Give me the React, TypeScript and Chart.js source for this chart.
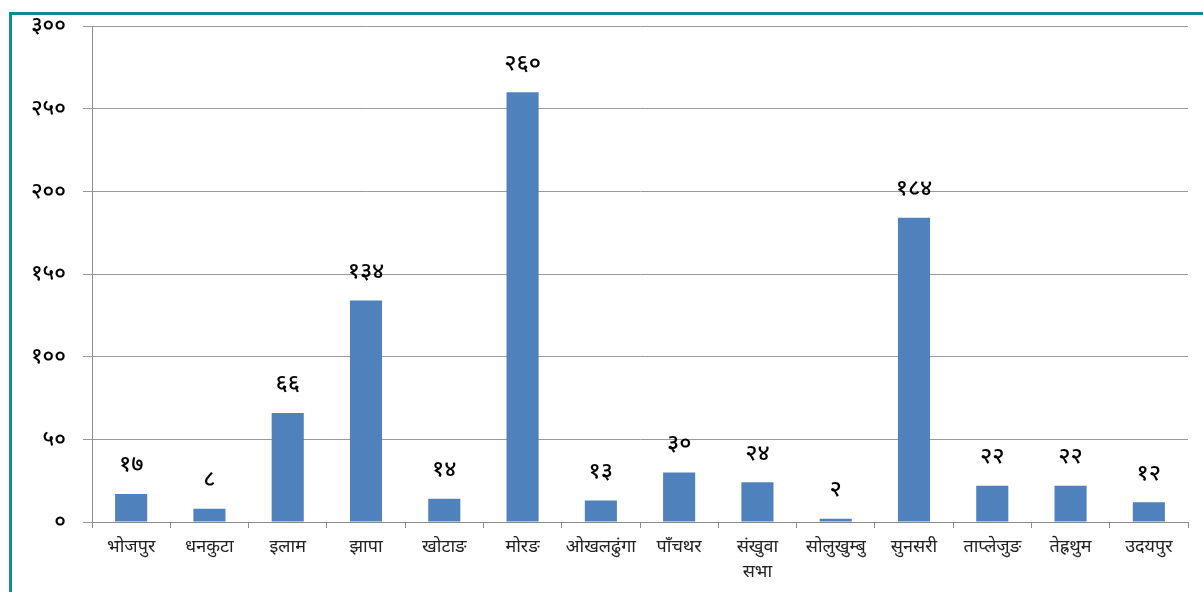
import React, { useEffect, useRef } from "react";
import { Chart, registerables } from "chart.js";

Chart.register(...registerables);

const categories: (string | string[])[] = [
  "भोजपुर",
  "धनकुटा",
  "इलाम",
  "झापा",
  "खोटाङ",
  "मोरङ",
  "ओखलढुंगा",
  "पाँचथर",
  ["संखुवा", "सभा"],
  "सोलुखुम्बु",
  "सुनसरी",
  "ताप्लेजुङ",
  "तेह्रथुम",
  "उदयपुर",
];
const values: number[] = [17, 8, 66, 134, 14, 260, 13, 30, 24, 2, 184, 22, 22, 12];
const yTicks: number[] = [0, 50, 100, 150, 200, 250, 300];

const DIGITS = "०१२३४५६७८९";
const toDev = (n: number) => String(n).replace(/[0-9]/g, (d) => DIGITS[+d]);

const FONT = "'Noto Sans', 'Noto Sans Devanagari', 'Lohit Devanagari', sans-serif";

export default function App() {
  const ref = useRef<HTMLCanvasElement | null>(null);
  useEffect(() => {
    if (!ref.current) return;
    const labelPlugin = {
      id: "barLabels",
      afterDatasetsDraw(chart: any) {
        const ctx = chart.ctx;
        const meta = chart.getDatasetMeta(0);
        ctx.save();
        ctx.fillStyle = "#000";
        ctx.font = `500 23px ${FONT}`;
        ctx.textAlign = "center";
        ctx.textBaseline = "middle";
        meta.data.forEach((bar: any, i: number) => {
          ctx.fillText(toDev(values[i]), bar.x, bar.y - 29);
        });
        ctx.restore();
      },
    };
    const chart = new Chart(ref.current, {
      type: "bar",
      data: {
        labels: categories,
        datasets: [
          {
            data: values,
            backgroundColor: "#4F81BD",
            barPercentage: 0.41,
            categoryPercentage: 1,
          },
        ],
      },
      options: {
        animation: false,
        responsive: false,
        maintainAspectRatio: false,
        layout: { padding: { left: 0, right: 15, top: 26, bottom: 0 } },
        plugins: { legend: { display: false }, tooltip: { enabled: false } },
        scales: {
          x: {
            grid: {
              offset: true,
              drawOnChartArea: false,
              drawTicks: true,
              tickLength: 6,
              color: "#8c8c8c",
            },
            border: { color: "#8c8c8c", width: 1 },
            ticks: {
              color: "#222",
              font: { family: FONT, size: 18, lineHeight: 1.4 },
              padding: 6,
              maxRotation: 0,
              autoSkip: false,
            },
            afterFit: (s: any) => {
              s.height = 70;
              s.paddingLeft = 0;
              s.paddingRight = 0;
            },
          },
          y: {
            min: 0,
            max: 300,
            afterBuildTicks: (s: any) => {
              s.ticks = yTicks.map((v) => ({ value: v }));
            },
            grid: { color: "#9a9a9a", tickLength: 9, drawTicks: true },
            border: { color: "#8c8c8c", width: 1 },
            ticks: {
              color: "#000",
              font: { family: FONT, size: 22, weight: "500" },
              padding: 17,
              callback: (v: any) => toDev(Number(v)),
            },
            afterFit: (s: any) => {
              s.width = 92;
              s.paddingTop = 0;
              s.paddingBottom = 0;
            },
          },
        },
      },
      plugins: [labelPlugin],
    });
    return () => chart.destroy();
  }, []);
  return (
    <div style={{ position: "fixed", left: 0, top: 0, width: 1203, height: 592, background: "#fff" }}>
      <div
        style={{
          position: "absolute",
          left: 9,
          top: 12,
          right: 0,
          bottom: 0,
          borderLeft: "3px solid #14878f",
          borderTop: "3px solid #14878f",
        }}
      />
      <canvas ref={ref} width={1203} height={592} style={{ position: "absolute", left: 0, top: 0 }} />
    </div>
  );
}
